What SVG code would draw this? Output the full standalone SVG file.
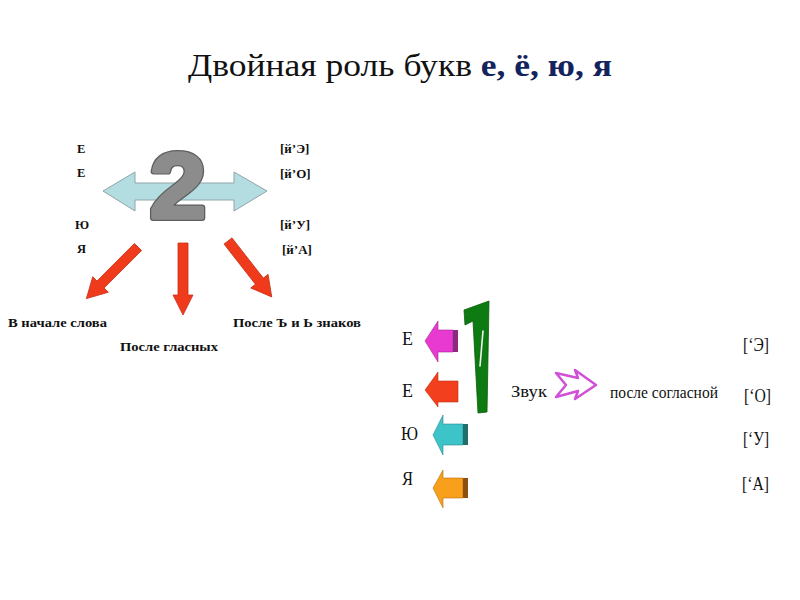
<svg xmlns="http://www.w3.org/2000/svg" width="800" height="600" viewBox="0 0 800 600">
<style>
.t{font-family:"Liberation Serif","Times New Roman",serif;fill:#111}
.b{font-weight:bold}
.red{fill:#ef3b1c;stroke:#c8301a;stroke-width:0.8}
</style>
<rect width="800" height="600" fill="#fff"/>
<g id="title">
<text class="t" x="188" y="76" font-size="31" textLength="424" lengthAdjust="spacingAndGlyphs">Двойная роль букв <tspan class="b" fill="#13235e">е, ё, ю, я</tspan></text>
</g>
<g id="left-letters" font-size="12.5">
<text class="t b" x="77" y="153">Е</text>
<text class="t b" x="77" y="177">Е</text>
<text class="t b" x="75" y="229">Ю</text>
<text class="t b" x="77" y="253">Я</text>
</g>
<g id="left-sounds" font-size="13">
<text class="t b" x="280" y="153">[й’Э]</text>
<text class="t b" x="280" y="178">[й’О]</text>
<text class="t b" x="280" y="229">[й’У]</text>
<text class="t b" x="282" y="254">[й’А]</text>
</g>
<g id="double-arrow">
<polygon points="103,191 135,172 135,183 234,183 234,172 267,191 234,211 234,200 135,200 135,211" fill="#b3dde1" stroke="#8fa5a8" stroke-width="1"/>
</g>
<g id="two" font-family="Liberation Sans,Arial,sans-serif" font-weight="bold" font-size="92" text-anchor="middle" transform="translate(178 0) scale(1.1 1) translate(-178 0)">
<text x="178" y="218" fill="#5e5e5e" stroke="#5e5e5e" stroke-width="6" stroke-linejoin="round">2</text>
<text x="178" y="218" fill="#8c8c8c" stroke="#8c8c8c" stroke-width="3.6" stroke-linejoin="round">2</text>
</g>
<g id="connectors">
<polygon class="red" transform="translate(138 247) rotate(45)" points="-5,0 5,0 5,53 11,53 0,73 -11,53 -5,53"/>
<polygon class="red" transform="translate(183 243)" points="-5,0 5,0 5,52 10,52 0,72 -10,52 -5,52"/>
<polygon class="red" transform="translate(228 241) rotate(-38)" points="-5,0 5,0 5,51 11,51 0,71 -11,51 -5,51"/>
</g>
<g id="label-start"><text class="t b" x="8" y="327" font-size="12.5" textLength="99" lengthAdjust="spacingAndGlyphs">В начале слова</text></g>
<g id="label-vowels"><text class="t b" x="120" y="351" font-size="12.5" textLength="98" lengthAdjust="spacingAndGlyphs">После гласных</text></g>
<g id="label-signs"><text class="t b" x="233" y="327" font-size="12.5" textLength="128" lengthAdjust="spacingAndGlyphs">После Ъ и Ь знаков</text></g>

<g id="right-letters" font-size="18">
<text class="t" x="402" y="345" textLength="11" lengthAdjust="spacingAndGlyphs">Е</text>
<text class="t" x="402" y="397" textLength="11" lengthAdjust="spacingAndGlyphs">Е</text>
<text class="t" x="401" y="440" textLength="17" lengthAdjust="spacingAndGlyphs">Ю</text>
<text class="t" x="402" y="485" textLength="11" lengthAdjust="spacingAndGlyphs">Я</text>
</g>
<g id="block-arrows">
<g id="arrow-pink">
<polygon points="425,341 438,321 438,330 453,330 453,352 438,352 438,362" fill="#e83ad0" stroke="#a02a90" stroke-width="0.6"/>
<rect x="453" y="330" width="5" height="22" fill="#8a2a80"/>
</g>
<g id="arrow-red">
<polygon points="425,390 438,372 438,381 458,381 458,402 438,402 438,407" fill="#f2401e" stroke="#b83018" stroke-width="0.6"/>
</g>
<g id="arrow-teal">
<polygon points="433,435 443,415 443,424 463,424 463,445 443,445 443,455" fill="#3cc4c8" stroke="#2a8a90" stroke-width="0.6"/>
<rect x="463" y="424" width="5" height="21" fill="#226e6a"/>
</g>
<g id="arrow-orange">
<polygon points="433,488 443,470 443,478 463,478 463,498 443,498 443,508" fill="#f8a01c" stroke="#b87010" stroke-width="0.6"/>
<rect x="463" y="478" width="5" height="20" fill="#8a5010"/>
</g>
</g>
<g id="one">
<path d="M464,310 L489,301 L487,412 L478,413 L473,321 L465,325 Z" fill="#0e7a12" stroke="#0a5a0c" stroke-width="0.8"/>
<path d="M483,331 L480,366" stroke="#f2f2f2" stroke-width="1.6" fill="none" stroke-linecap="round"/>
</g>
<g id="zvuk"><text class="t" x="511" y="397" font-size="17" textLength="36" lengthAdjust="spacingAndGlyphs">Звук</text></g>
<g id="hollow-arrow">
<path d="M556,373 L578,378 L575,370 L596,385 L575,399 L578,391 L556,397 L566,385 Z" fill="none" stroke="#d050d8" stroke-width="2.5" stroke-linejoin="round"/>
</g>
<g id="after-consonant"><text class="t" x="610" y="398" font-size="16" textLength="108" lengthAdjust="spacingAndGlyphs">после согласной</text></g>
<g id="right-sounds" font-size="19">
<text class="t" x="743" y="351" textLength="26" lengthAdjust="spacingAndGlyphs">[‘Э]</text>
<text class="t" x="744" y="402" textLength="27" lengthAdjust="spacingAndGlyphs">[‘О]</text>
<text class="t" x="743" y="445" textLength="26" lengthAdjust="spacingAndGlyphs">[‘У]</text>
<text class="t" x="742" y="490" textLength="27" lengthAdjust="spacingAndGlyphs">[‘А]</text>
</g>
</svg>
